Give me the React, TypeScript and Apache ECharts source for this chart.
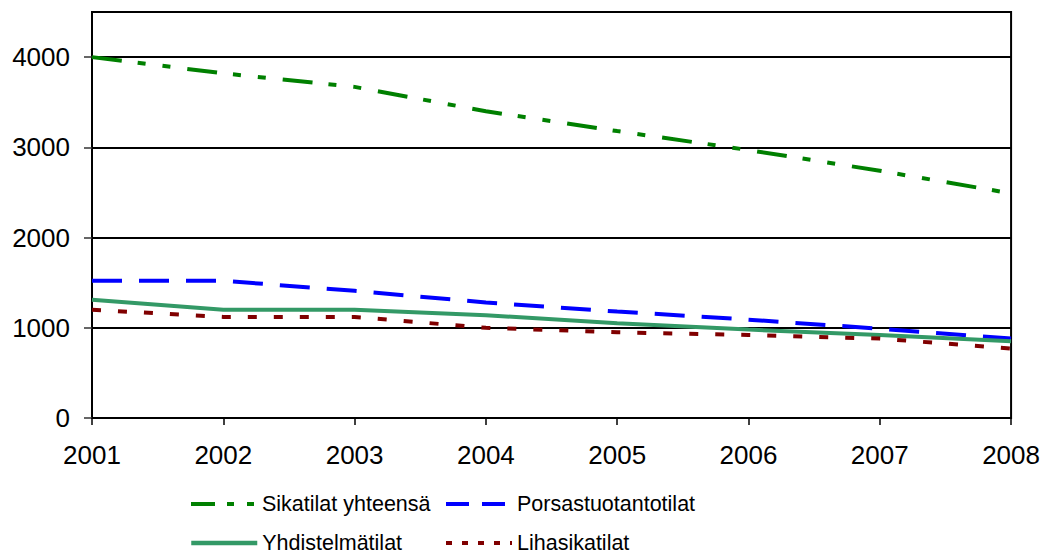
import React, { useEffect, useRef } from "react";
import * as echarts from "echarts";

// Pig farm counts per year, by farm type
const years = ["2001", "2002", "2003", "2004", "2005", "2006", "2007", "2008"];
const sikatilatYhteensa = [4000, 3820, 3670, 3400, 3180, 2970, 2740, 2490];
const porsastuotantotilat = [1520, 1520, 1410, 1280, 1180, 1090, 990, 880];
const yhdistelmatilat = [1310, 1200, 1200, 1140, 1050, 980, 920, 850];
const lihasikatilat = [1200, 1120, 1120, 1000, 950, 920, 880, 770];
const yTicks = [0, 1000, 2000, 3000, 4000];

const seriesNames = [
  "Sikatilat yhteensä",
  "Porsastuotantotilat",
  "Yhdistelmätilat",
  "Lihasikatilat",
];

const FONT = "'Liberation Sans', Arial, sans-serif";

export default function App() {
  const ref = useRef<HTMLDivElement>(null);

  useEffect(() => {
    if (!ref.current) return;
    const chart = echarts.init(ref.current, null, { renderer: "svg" });

    // One legend per entry so the two rows line up in columns
    const legendItem = (
      name: string,
      left: number,
      top: number,
      dash: number[] | "solid",
      width: number
    ) => ({
      data: [name],
      left,
      top,
      orient: "horizontal",
      padding: 0,
      itemWidth: 66,
      itemHeight: 30,
      itemStyle: { opacity: 0, borderWidth: 0 },
      lineStyle: { type: dash, width },
      textStyle: { fontFamily: FONT, fontSize: 21.5, color: "#000" },
    });

    chart.setOption({
      animation: false,
      backgroundColor: "#fff",
      textStyle: { fontFamily: FONT },
      grid: {
        left: 92,
        right: 31,
        top: 12,
        bottom: 142,
        show: true,
        borderColor: "#000",
        borderWidth: 2,
        containLabel: false,
      },
      legend: [
        legendItem(seriesNames[0], 189, 492, [24, 12, 7, 13, 7, 13], 4),
        legendItem(seriesNames[1], 444, 492, [23, 13], 4),
        legendItem(seriesNames[2], 189, 531, "solid", 4.5),
        legendItem(seriesNames[3], 444, 531, [6, 10], 4),
      ],
      xAxis: {
        type: "category",
        data: years,
        boundaryGap: false,
        axisLine: { lineStyle: { color: "#000", width: 2 } },
        axisTick: { show: true, length: 7, lineStyle: { color: "#000", width: 1.5 } },
        axisLabel: { color: "#000", fontSize: 26, margin: 24, fontFamily: FONT },
        splitLine: { show: false },
      },
      yAxis: {
        type: "value",
        min: 0,
        max: 4500,
        interval: 1000,
        axisLine: { show: true, lineStyle: { color: "#000", width: 2 } },
        axisTick: {
          show: true,
          length: 8,
          customValues: yTicks,
          lineStyle: { color: "#333", width: 1.5 },
        },
        axisLabel: {
          color: "#000",
          fontSize: 26,
          margin: 22,
          fontFamily: FONT,
          customValues: yTicks,
          formatter: (v: number) => String(v),
        },
        splitLine: { show: true, lineStyle: { color: "#000", width: 2 } },
      },
      series: [
        {
          name: seriesNames[0],
          type: "line",
          data: sikatilatYhteensa,
          symbol: "none",
          showSymbol: false,
          color: "#008000",
          lineStyle: { color: "#008000", width: 4, type: [30, 16, 8, 17, 8, 17] },
        },
        {
          name: seriesNames[1],
          type: "line",
          data: porsastuotantotilat,
          symbol: "none",
          showSymbol: false,
          color: "#0000ff",
          lineStyle: { color: "#0000ff", width: 4, type: [30, 17] },
        },
        {
          name: seriesNames[2],
          type: "line",
          data: yhdistelmatilat,
          symbol: "none",
          showSymbol: false,
          color: "#339966",
          lineStyle: { color: "#339966", width: 4, type: "solid" },
        },
        {
          name: seriesNames[3],
          type: "line",
          data: lihasikatilat,
          symbol: "none",
          showSymbol: false,
          color: "#800000",
          lineStyle: { color: "#800000", width: 4, type: [9, 17] },
        },
      ],
    });

    return () => chart.dispose();
  }, []);

  return (
    <div
      ref={ref}
      style={{ position: "fixed", left: 0, top: 0, width: 1043, height: 560 }}
    />
  );
}
